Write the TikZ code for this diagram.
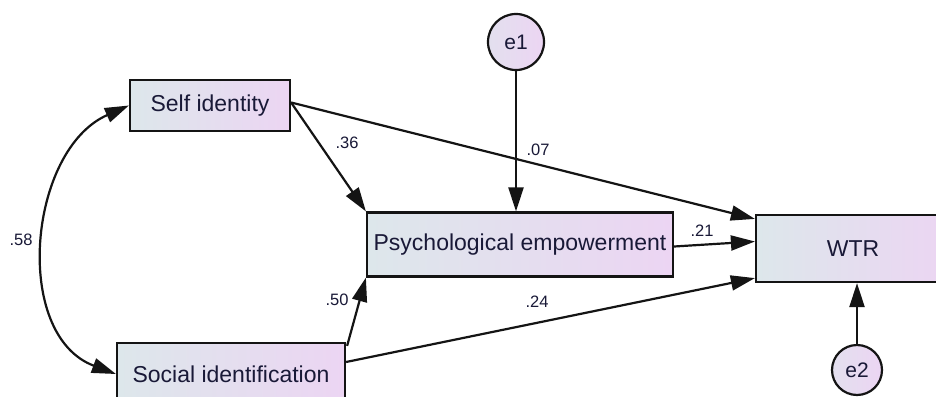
\documentclass[tikz,border=0pt]{standalone}
\usepackage{fontspec}
\setmainfont{Liberation Sans}
\usetikzlibrary{arrows.meta,calc}
\definecolor{fillL}{RGB}{221,231,235}
\definecolor{fillR}{RGB}{236,213,243}
\definecolor{txt}{RGB}{25,25,55}
\definecolor{edge}{RGB}{20,20,20}
\tikzset{
  varbox/.style={draw=edge, line width=2.2pt, left color=fillL, right color=fillR,
    inner sep=0pt, text=txt, font=\fontsize{23}{26}\selectfont},
  errnode/.style={circle, draw=edge, line width=2.2pt, left color=fillL!60!fillR, right color=fillR,
    inner sep=0pt, minimum size=#1, text=txt, font=\fontsize{21}{24}\selectfont},
  path/.style={draw=edge, line width=2.2pt, -{Triangle[length=24pt,width=15pt]}},
  cov/.style={draw=edge, line width=2.2pt, {Triangle[length=24pt,width=15pt]}-{Triangle[length=24pt,width=15pt]}},
  wlabel/.style={font=\fontsize{16.5}{19}\selectfont, text=txt, inner sep=0pt}
}
\begin{document}
\begin{tikzpicture}[x=1pt,y=-1pt]
\useasboundingbox (0,0) rectangle (936,396);
\clip (0,0) rectangle (936,396);
\fill[white] (0,0) rectangle (936,396);
% variables
\node[varbox, minimum width=160pt, minimum height=51pt] (si) at (210,105.5) {Self identity};
\node[varbox, minimum width=228pt, minimum height=62pt] (sid) at (231,374) {Social identification};
\node[varbox, minimum width=306pt, minimum height=64pt] (pe) at (520,244.5) {Psychological empowerment};
\node[varbox, minimum width=194pt, minimum height=67pt] (wtr) at (853,248.5) {WTR};
\node[errnode=56pt] (e1) at (516,42) {e1};
\node[errnode=50pt] (e2) at (857,370) {e2};
% paths
\coordinate (siout) at ($(si.east)+(0,-3)$);
\draw[path] (siout) -- ($(pe.north west)+(0,0)$);
\draw[path] (siout) -- ($(wtr.north west)+(0,5)$);
\draw[path] ($(pe.east)+(0,2)$) -- ($(wtr.west)+(0,-7)$);
\draw[path] ($(sid.east)+(0,-12)$) -- ($(wtr.south west)+(0,-5)$);
\draw[path] ($(sid.north east)+(1,4)$) -- (pe.south west);
\draw[path] (e1.south) -- (e1.south |- pe.north);
\draw[path] (e2.north) -- (e2.north |- wtr.south);
\draw[cov] (si.west) .. controls (28,150) and (12,335) .. (sid.west);
% labels
\node[wlabel] (l36) at (347,143) {.36};
\node[wlabel] (l07) at (538,150) {.07};
\node[wlabel] (l58) at (21,240) {.58};
\node[wlabel] (l50) at (337,300) {.50};
\node[wlabel] (l21) at (702,231) {.21};
\node[wlabel] (l24) at (537,302) {.24};
\end{tikzpicture}
\end{document}
